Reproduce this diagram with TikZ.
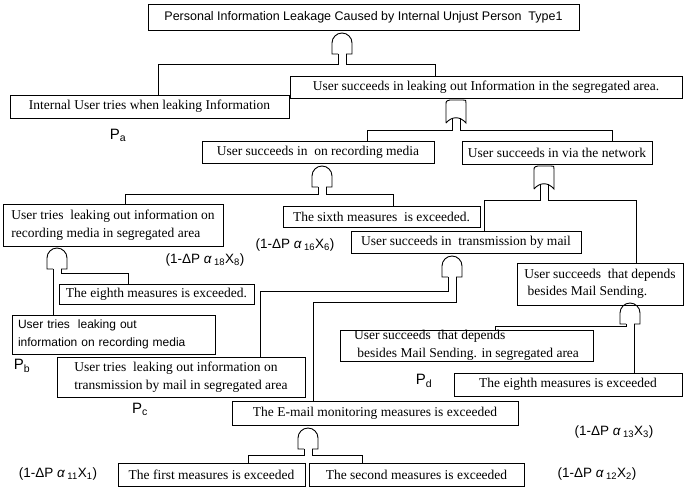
\documentclass[tikz,border=0pt]{standalone}
\usepackage{fontspec}
\setmainfont{Liberation Serif}
\setsansfont{Liberation Sans}
\usepackage{tikz}

% AND gate: name, centre x, top y
\newcommand{\andgate}[3]{%
  \draw[wire] (#2-4,#3+21) -- (#2-10,#3+21) -- (#2-10,#3+10)
    .. controls (#2-10,#3+4.5) and (#2-5.5,#3) .. (#2,#3)
    .. controls (#2+5.5,#3) and (#2+10,#3+4.5) .. (#2+10,#3+10)
    -- (#2+10,#3+21) -- (#2+4,#3+21);
  \coordinate (#1l) at (#2-4,#3+21);
  \coordinate (#1r) at (#2+4,#3+21);
}
% OR gate: name, centre x, top y
\newcommand{\orgate}[3]{%
  \draw[wire] (#2-10,#3+23) -- (#2-10,#3+5)
    .. controls (#2-10,#3+1) .. (#2-6,#3) -- (#2+7,#3)
    .. controls (#2+10,#3) .. (#2+10,#3+3) -- (#2+10,#3+23)
    .. controls (#2+4,#3+16) and (#2-4,#3+16) .. (#2-10,#3+23);
  \coordinate (#1l) at (#2-4,#3+18);
  \coordinate (#1r) at (#2+4,#3+18);
}

\tikzset{
  wire/.style={line width=0.9pt},
  ev/.style={draw, line width=0.9pt, inner sep=0pt, align=left, font=\fontsize{13.5}{17.5}\selectfont},
  evsans/.style={ev, inner xsep=6pt, font=\sffamily\fontsize{12}{18}\selectfont},
  prob/.style={font=\sffamily\fontsize{13.5}{13.5}\selectfont},
  plab/.style={font=\sffamily\fontsize{15}{15}\selectfont},
}

\begin{document}
\begin{tikzpicture}[x=1pt,y=-1pt]
\useasboundingbox (0,0) rectangle (686,488);

% events
\node[ev, font=\sffamily\fontsize{12.5}{12.5}\selectfont, minimum width=431pt, minimum height=26pt] (top) at (363.5,17)
  {Personal Information Leakage Caused by Internal Unjust Person\ \ Type1};
\node[ev, minimum width=279pt, minimum height=23pt] (a) at (149.5,106.5) {Internal User tries when leaking Information};
\node[ev, minimum width=392pt, minimum height=22pt] (b) at (486,87) {User succeeds in leaking out Information in the segregated area.};
\node[ev, minimum width=232pt, minimum height=22pt] (c) at (318,152) {User succeeds in\ \ on recording media};
\node[ev, minimum width=190pt, minimum height=23pt] (d) at (557,152.5) {User succeeds in via the network};
\node[ev, minimum width=220pt, minimum height=42pt] (e) at (113,225)
  {User tries\ \ leaking out information on\\recording media in segregated area};
\node[ev, minimum width=197pt, minimum height=21pt] (f) at (381.5,216.5) {The sixth measures\ \ is exceeded.};
\node[ev, minimum width=230pt, minimum height=22pt] (g) at (466,242) {User succeeds in\ \ transmission by mail};
\node[ev, minimum width=166pt, minimum height=42pt] (h) at (600,284)
  {User succeeds\ \ that depends\\\ besides Mail Sending.};
\node[ev, minimum width=195pt, minimum height=20pt] (j) at (156.5,294) {The eighth measures is exceeded.};
\node[evsans, text width=191pt, minimum height=39pt] (i) at (113.5,334.5)
  {User tries\ \ leaking out\\information on recording media};
\node[ev, minimum width=253pt, minimum height=31pt] (m) at (466.5,345.5)
  {User succeeds\ \ that depends\\\ besides Mail Sending. in segregated area};
\node[ev, minimum width=248pt, minimum height=40pt] (k) at (181,377)
  {User tries\ \ leaking out information on\\transmission by mail in segregated area};
\node[ev, minimum width=228pt, minimum height=23pt] (n) at (568,384.5) {The eighth measures is exceeded};
\node[ev, minimum width=286pt, minimum height=24pt] (l) at (375,413) {The E-mail monitoring measures is exceeded};
\node[ev, minimum width=187pt, minimum height=23pt] (o) at (211.5,474.5) {The first measures is exceeded};
\node[ev, minimum width=215pt, minimum height=23pt] (p) at (416.5,474.5) {The second measures is exceeded};

% gates
\andgate{g1}{342}{33}
\orgate{g2}{456}{100}
\andgate{g3}{322}{166}
\orgate{g4}{544}{166}
\andgate{g5}{57}{248}
\andgate{g6}{452}{256}
\andgate{g7}{630}{303}
\andgate{g8}{308}{428}

% bends
\coordinate (b1a) at (158,64);  \coordinate (b1b) at (435,64);
\coordinate (b2c) at (367,130); \coordinate (b2d) at (612,130);
\coordinate (b3e) at (125,194); \coordinate (b3f) at (393,194);
\coordinate (b4g) at (484,200); \coordinate (b4h) at (636,200);
\coordinate (b5j) at (128,273);
\coordinate (b6k) at (260,291); \coordinate (b6l) at (313,302);
\coordinate (b7m) at (495,326);
\coordinate (b8o) at (248,455); \coordinate (b8p) at (362,455);

% connectors
\draw[wire] (g1l) |- (b1a) -- (b1a |- a.north);
\draw[wire] (g1r) |- (b1b) -- (b1b |- b.north);
\draw[wire] (g2l) |- (b2c) -- (b2c |- c.north);
\draw[wire] (g2r) |- (b2d) -- (b2d |- d.north);
\draw[wire] (g3l) |- (b3e) -- (b3e |- e.north);
\draw[wire] (g3r) |- (b3f) -- (b3f |- f.north);
\draw[wire] (g4l) |- (b4g) -- (b4g |- g.north);
\draw[wire] (g4r) |- (b4h) -- (b4h |- h.north);
\draw[wire] (g5l) -- (g5l |- i.north);
\draw[wire] (g5r) |- (b5j) -- (b5j |- j.north);
\draw[wire] (g6l) |- (b6k) -- (b6k |- k.north);
\draw[wire] (g6r) |- (b6l) -- (b6l |- l.north);
\draw[wire] (g7l) |- (b7m) -- (b7m |- m.north);
\draw[wire] (g7r) -- (g7r |- n.north);
\draw[wire] (g8l) |- (b8o) -- (b8o |- o.north);
\draw[wire] (g8r) |- (b8p) -- (b8p |- p.north);

% probabilities
\node[plab] (pa) at (118,135) {P\textsubscript{a}};
\node[plab] (pb) at (22,366) {P\textsubscript{b}};
\node[plab] (pc) at (140,409) {P\textsubscript{c}};
\node[plab] (pd) at (424,381) {P\textsubscript{d}};
\node[prob] (x6) at (295,245) {(1-ΔP \textit{α}\,\textsubscript{16}X\textsubscript{6})};
\node[prob] (x8) at (205,260) {(1-ΔP \textit{α}\,\textsubscript{18}X\textsubscript{8})};
\node[prob] (x3) at (614,432) {(1-ΔP \textit{α}\,\textsubscript{13}X\textsubscript{3})};
\node[prob] (x1) at (58,474) {(1-ΔP \textit{α}\,\textsubscript{11}X\textsubscript{1})};
\node[prob] (x2) at (597,474) {(1-ΔP \textit{α}\,\textsubscript{12}X\textsubscript{2})};
\end{tikzpicture}
\end{document}
